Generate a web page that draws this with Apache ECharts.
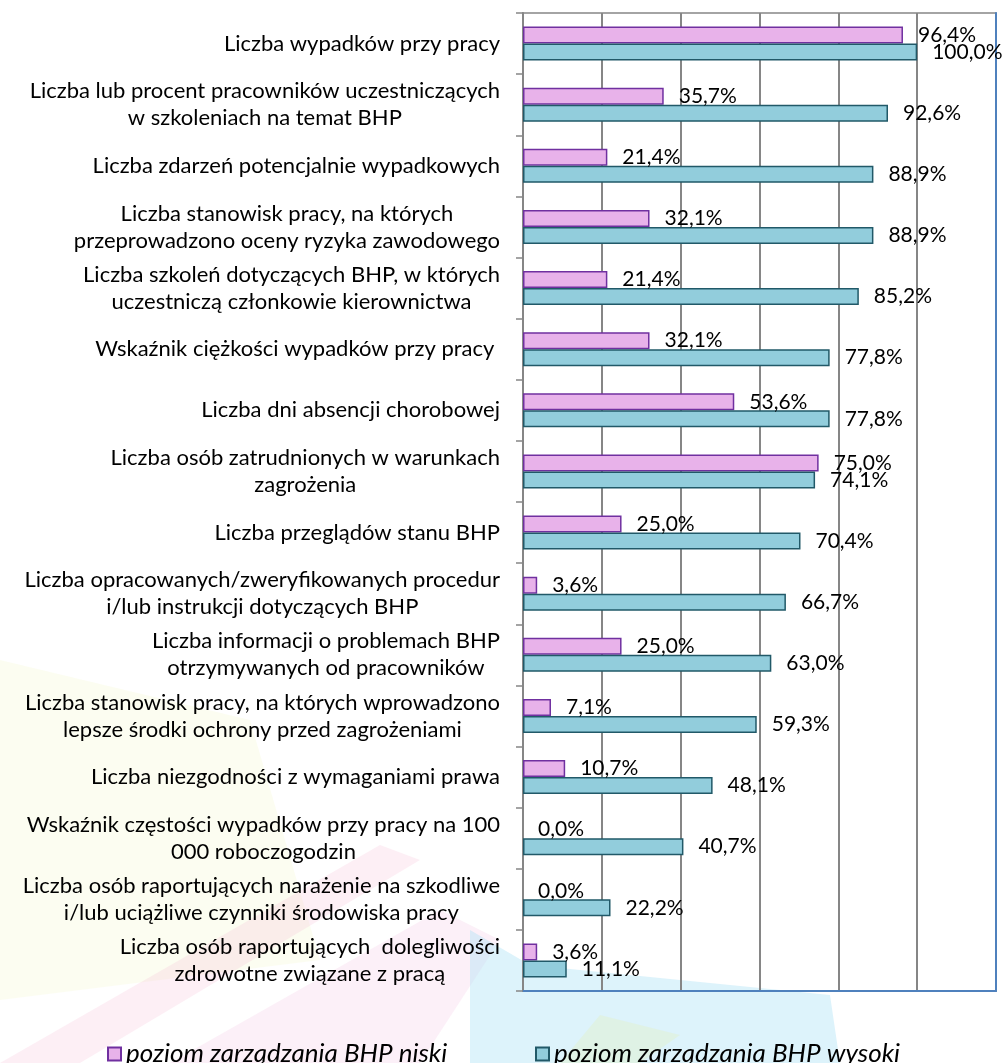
<!DOCTYPE html>
<html>
<head>
<meta charset="utf-8">
<script src="https://cdn.jsdelivr.net/npm/echarts@6/dist/echarts.min.js"></script>
<style>
  html, body { margin: 0; padding: 0; background: #fff; }
  #chart { width: 1005px; height: 1063px; }
</style>
</head>
<body>
<div id="chart"></div>
<script>
const categories = [
  'Liczba wypadków przy pracy',
  'Liczba lub procent pracowników uczestniczących\nw szkoleniach na temat BHP',
  'Liczba zdarzeń potencjalnie wypadkowych',
  'Liczba stanowisk pracy, na których\nprzeprowadzono oceny ryzyka zawodowego',
  'Liczba szkoleń dotyczących BHP, w których\nuczestniczą członkowie kierownictwa',
  'Wskaźnik ciężkości wypadków przy pracy ',
  'Liczba dni absencji chorobowej',
  'Liczba osób zatrudnionych w warunkach\nzagrożenia',
  'Liczba przeglądów stanu BHP',
  'Liczba opracowanych/zweryfikowanych procedur\ni/lub instrukcji dotyczących BHP',
  'Liczba informacji o problemach BHP\notrzymywanych od pracowników',
  'Liczba stanowisk pracy, na których wprowadzono\nlepsze środki ochrony przed zagrożeniami',
  'Liczba niezgodności z wymaganiami prawa',
  'Wskaźnik częstości wypadków przy pracy na 100\n000 roboczogodzin',
  'Liczba osób raportujących narażenie na szkodliwe\ni/lub uciążliwe czynniki środowiska pracy',
  'Liczba osób raportujących  dolegliwości\nzdrowotne związane z pracą'
]
const niski = [96.4, 35.7, 21.4, 32.1, 21.4, 32.1, 53.6, 75.0, 25.0, 3.6, 25.0, 7.1, 10.7, 0.0, 0.0, 3.6]
const wysoki = [100.0, 92.6, 88.9, 88.9, 85.2, 77.8, 77.8, 74.1, 70.4, 66.7, 63.0, 59.3, 48.1, 40.7, 22.2, 11.1]
const seriesNames = ['poziom zarządzania BHP niski', 'poziom zarządzania BHP wysoki']

const font = 'Lato'
const chart = echarts.init(document.getElementById('chart'))

const pct = (p) => p.value.toFixed(1).replace('.', ',') + '%'

// zero bars get no outline, like in the original
const toData = (arr) => arr.map(v => (v === 0 ? { value: v, itemStyle: { borderWidth: 0 } } : v))

const barLabel = {
  show: true,
  position: 'right',
  distance: 15,
  formatter: pct,
  color: '#000',
  fontSize: 21,
  fontFamily: font
}

const legendText = { fontSize: 26, fontStyle: 'italic', color: '#000', fontFamily: font }

const option = {
  backgroundColor: '#fff',
  animation: false,
  // faded logo in the background
  graphic: [
    { type: 'polygon', z: -10, silent: true, shape: { points: [[0, 660], [250, 720], [320, 960], [0, 1000]] }, style: { fill: 'rgba(245,248,210,0.3)' } },
    { type: 'polygon', z: -10, silent: true, shape: { points: [[0, 1063], [80, 1063], [420, 860], [380, 845]] }, style: { fill: 'rgba(245,180,210,0.22)' } },
    { type: 'polygon', z: -10, silent: true, shape: { points: [[170, 1063], [420, 1063], [500, 940], [440, 910]] }, style: { fill: 'rgba(245,195,228,0.25)' } },
    { type: 'polygon', z: -10, silent: true, shape: { points: [[470, 1063], [470, 930], [530, 965], [830, 995], [840, 1063]] }, style: { fill: 'rgba(170,225,245,0.4)' } },
    { type: 'polygon', z: -10, silent: true, shape: { points: [[560, 1063], [600, 1015], [680, 1035], [640, 1063]] }, style: { fill: 'rgba(225,240,190,0.35)' } }
  ],
  grid: {
    left: 523,
    right: 9,
    top: 13,
    bottom: 72,
    show: true,
    borderColor: '#868686',
    borderWidth: 1.5,
    backgroundColor: 'transparent'
  },
  legend: [
    {
      data: [seriesNames[0]],
      left: 102,
      top: 1036,
      icon: 'rect',
      itemWidth: 13,
      itemHeight: 13,
      itemGap: 6,
      textStyle: legendText
    },
    {
      data: [seriesNames[1]],
      left: 530,
      top: 1036,
      icon: 'rect',
      itemWidth: 13,
      itemHeight: 13,
      itemGap: 6,
      textStyle: legendText
    }
  ],
  xAxis: {
    type: 'value',
    min: 0,
    max: 120,
    interval: 20,
    axisLabel: { show: false },
    axisTick: { show: false },
    axisLine: { show: true, lineStyle: { color: '#4F81BD', width: 2 } },
    splitLine: { show: true, lineStyle: { color: '#868686', width: 2 } }
  },
  yAxis: [
    {
      type: 'category',
      inverse: true,
      data: categories,
      axisLine: { show: true, lineStyle: { color: '#868686', width: 2 } },
      axisTick: { show: true, length: 7, lineStyle: { color: '#868686', width: 1.5 } },
      axisLabel: {
        margin: 23,
        align: 'right',
        interval: 0,
        formatter: (v) => v.split('\n').map(l => '{c|' + l + '}').join('\n'),
        rich: {
          c: { align: 'center', fontSize: 22, lineHeight: 27, fontFamily: font, color: '#000' }
        }
      }
    },
    {
      type: 'category',
      position: 'right',
      inverse: true,
      data: categories,
      axisLine: { show: true, lineStyle: { color: '#4F81BD', width: 2 } },
      axisTick: { show: false },
      axisLabel: { show: false }
    }
  ],
  series: [
    {
      name: seriesNames[0],
      type: 'bar',
      data: toData(niski),
      barWidth: 17,
      barGap: '0%',
      itemStyle: { color: '#E8B2EA', borderColor: '#7030A0', borderWidth: 1.5 },
      label: barLabel
    },
    {
      name: seriesNames[1],
      type: 'bar',
      data: toData(wysoki),
      barWidth: 17,
      barGap: '0%',
      itemStyle: { color: '#92CDDC', borderColor: '#215968', borderWidth: 1.5 },
      label: barLabel
    }
  ]
}

chart.setOption(option)
</script>
</body>
</html>
